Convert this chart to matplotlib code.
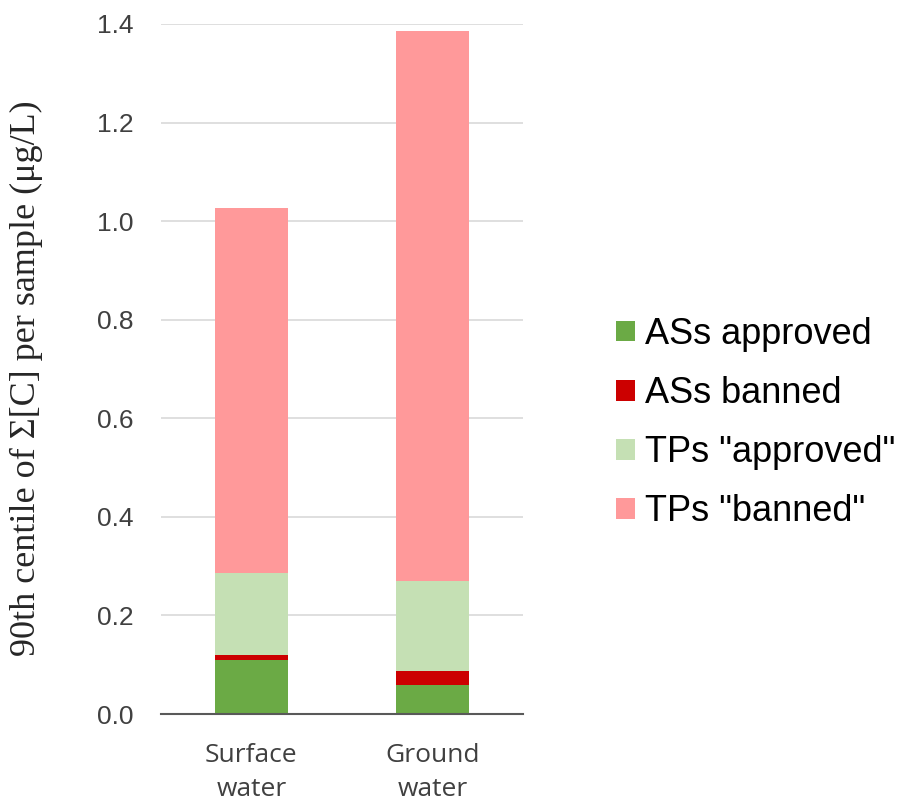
import numpy as np
import matplotlib.pyplot as plt

# data
categories = ["Surface\nwater", "Ground\nwater"]
series_names = ["ASs approved", "ASs banned", 'TPs "approved"', 'TPs "banned"']
as_approved = [0.110, 0.059]
as_banned = [0.009, 0.028]
tp_approved = [0.168, 0.183]
tp_banned = [0.739, 1.116]
colors = ["#6BAA45", "#CC0000", "#C5E0B4", "#FF999A"]
yticks = [0.0, 0.2, 0.4, 0.6, 0.8, 1.0, 1.2, 1.4]

fig = plt.figure(figsize=(9.04, 8), dpi=100)
ax = fig.add_axes([0.178, 0.1075, 0.4005, 0.8625])

x = np.arange(len(categories))
bottom = np.zeros(len(categories))
handles = []
for vals, name, col in zip([as_approved, as_banned, tp_approved, tp_banned], series_names, colors):
    h = ax.bar(x, vals, width=0.4, bottom=bottom, color=col, label=name, zorder=3)
    handles.append(h)
    bottom += np.array(vals)

ax.set_xlim(-0.5, 1.5)
ax.set_ylim(0, 1.4)
ax.set_yticks(yticks)
ax.set_yticklabels([f"{v:.1f}" for v in yticks], family="Liberation Sans",
                   fontsize=19, color="#404040")
ax.set_xticks(x)
ax.set_xticklabels(categories, family="Open Sans", fontsize=19, color="#404040",
                   linespacing=1.45)
ax.tick_params(axis="y", length=0, pad=20)
ax.tick_params(axis="x", length=0, pad=21)

ax.grid(axis="y", color="#D9D9D9", linewidth=1.2, zorder=0)
for s in ["top", "right", "left"]:
    ax.spines[s].set_visible(False)
ax.spines["bottom"].set_color("#595959")
ax.spines["bottom"].set_linewidth(1.5)
ax.spines["bottom"].set_zorder(4)

ax.set_ylabel("90th centile of \u03a3[C] per sample (\u03bcg/L)", family="Liberation Serif",
              fontsize=26, color="#262626")
ax.yaxis.set_label_coords(-0.326, 0.487)

fig.legend(handles=handles, labels=series_names, loc="center left",
           bbox_to_anchor=(0.646, 0.471), frameon=False,
           prop={"family": "Liberation Sans", "size": 26},
           handlelength=0.5, handleheight=0.5, handletextpad=0.3,
           labelspacing=0.67)

plt.savefig("out.png", dpi=100)
